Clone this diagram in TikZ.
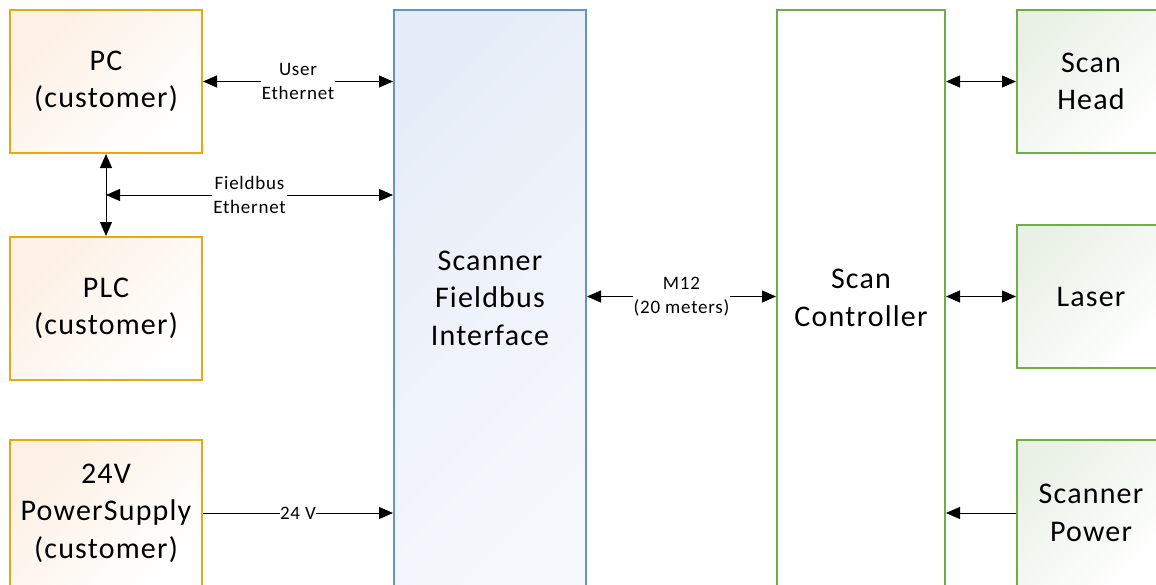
\documentclass[tikz,border=0pt]{standalone}
\usepackage{fontspec}
\setmainfont{Carlito}[LetterSpace=4]
\usetikzlibrary{arrows.meta,calc}
\definecolor{orangeB}{HTML}{E6A817}
\definecolor{orangeF}{HTML}{FDF0E4}
\definecolor{blueB}{HTML}{6393CB}
\definecolor{blueF}{HTML}{E7EDF8}
\definecolor{greenB}{HTML}{70AD47}
\definecolor{greenF}{HTML}{E9F1E6}
\begin{document}
\begin{tikzpicture}[x=1pt,y=-1pt,
  box/.style={draw, line width=2pt, inner sep=0pt, align=center,
    font=\fontsize{30}{37.5}\selectfont},
  obox/.style={box, draw=orangeB, top color=orangeF, bottom color=white, shading angle=45,
    minimum width=192pt, minimum height=143pt},
  bbox/.style={box, draw=blueB, top color=blueF, bottom color=white!60!blueF, shading angle=45},
  gbox/.style={box, draw=greenB, top color=greenF, bottom color=white, shading angle=45,
    minimum width=148pt, minimum height=143pt},
  wbox/.style={box, draw=greenB, fill=white},
  conn/.style={line width=1pt, -{Triangle[length=14pt,width=12pt]}},
  dconn/.style={line width=1pt, {Triangle[length=14pt,width=12pt]}-{Triangle[length=14pt,width=12pt]}},
  lab/.style={fill=white, inner sep=1pt, align=center, font=\fontsize{19}{24.5}\selectfont}
]
\useasboundingbox (0,0) rectangle (1156,584);
% left boxes
\node[obox] (pc) at (106,81.5) {PC\\(customer)};
\node[obox] (plc) at (106,308.5) {PLC\\(customer)};
\node[obox, minimum height=146pt] (psu) at (106,513) {24V\\PowerSupply\\(customer)};
% central boxes
\node[bbox, minimum width=192pt, minimum height=576pt] (fi) at (490,298) {Scanner\\Fieldbus\\Interface};
\node[wbox, minimum width=168pt, minimum height=576pt] (sc) at (861,298) {Scan\\Controller};
% right boxes
\node[gbox] (sh) at (1091,81.5) {Scan\\Head};
\node[gbox] (la) at (1091,296.5) {Laser};
\node[gbox, minimum height=146pt] (sp) at (1091,513) {Scanner\\Power};
% connectors
\draw[dconn] (pc.east) -- node[lab] {User\\Ethernet} (pc.east -| fi.west);
\draw[dconn] (pc.south) -- (plc.north);
\coordinate (fb) at ($(pc.south)!0.5!(plc.north)$);
\draw[dconn] (fb) -- node[lab] {Fieldbus\\Ethernet} (fb -| fi.west);
\draw[conn] (psu.east) -- node[lab, inner sep=0pt] {24 V} (psu.east -| fi.west);
\draw[dconn] (fi.east |- la.west) -- node[lab] {M12\\(20 meters)} (sc.west |- la.west);
\draw[dconn] (sc.east |- sh.west) -- (sh.west);
\draw[dconn] (sc.east |- la.west) -- (la.west);
\draw[conn] (sp.west) -- (sp.west -| sc.east);
\end{tikzpicture}
\end{document}
